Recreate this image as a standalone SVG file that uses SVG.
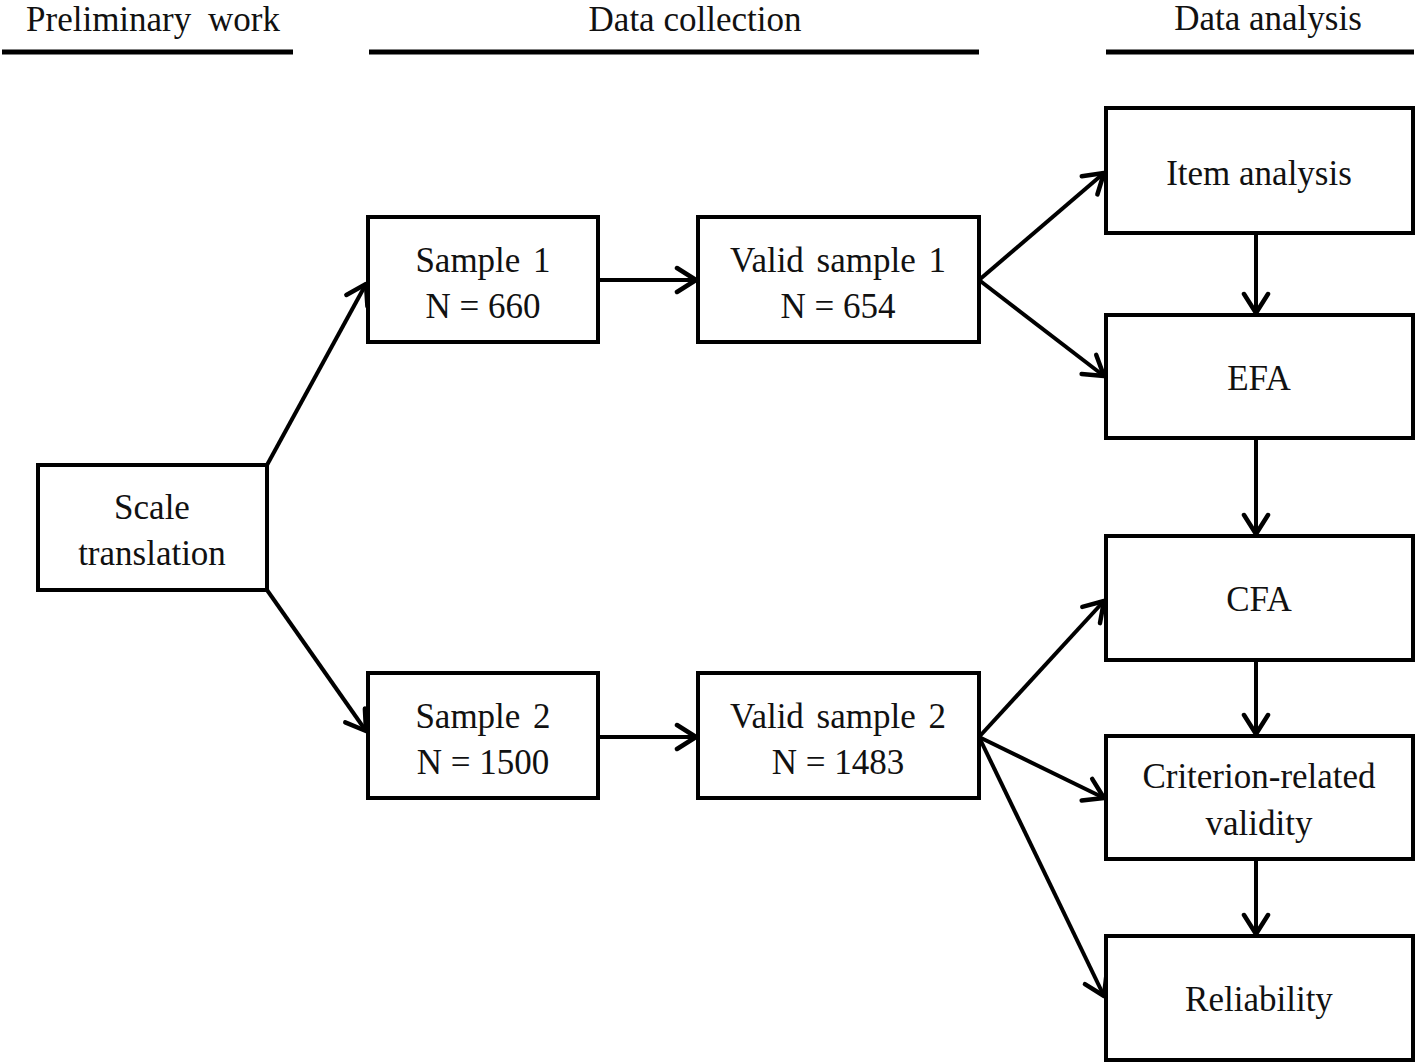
<svg xmlns="http://www.w3.org/2000/svg" width="1416" height="1064" viewBox="0 0 1416 1064">
<style>
text{font-family:"Liberation Serif","Times New Roman",serif;font-size:35px;fill:#111;text-anchor:middle}
.ws{word-spacing:4px}
.box{fill:#fff;stroke:#000;stroke-width:4}
.hdr{stroke:#000;stroke-width:5}
.con line{stroke:#000;stroke-width:4;marker-end:url(#arr)}
</style>
<defs>
<marker id="arr" markerUnits="userSpaceOnUse" markerWidth="30" markerHeight="30" viewBox="-22 -15 26 30" refX="0" refY="0" orient="auto">
<path d="M-19,-12 L0,0 L-19,12" fill="none" stroke="#000" stroke-width="4.5" stroke-linecap="round" stroke-linejoin="round"/>
</marker>
</defs>
<rect width="1416" height="1064" fill="#fff"/>
<g id="headers">
<text class="ws" x="153" y="31" style="word-spacing:8px">Preliminary work</text>
<line class="hdr" x1="2" y1="52" x2="293" y2="52"/>
<text x="695" y="31">Data collection</text>
<line class="hdr" x1="369" y1="52" x2="979" y2="52"/>
<text x="1268" y="30">Data analysis</text>
<line class="hdr" x1="1106" y1="52" x2="1414" y2="52"/>
</g>
<g class="con" id="connectors">
<line x1="267" y1="465" x2="366" y2="284"/>
<line x1="267" y1="590" x2="366" y2="731"/>
<line x1="598" y1="280" x2="696" y2="280"/>
<line x1="598" y1="737" x2="696" y2="737"/>
<line x1="979" y1="280" x2="1104" y2="173"/>
<line x1="979" y1="280" x2="1104" y2="376"/>
<line x1="1256" y1="233" x2="1256" y2="313"/>
<line x1="1256" y1="438" x2="1256" y2="534"/>
<line x1="979" y1="737" x2="1104" y2="601"/>
<line x1="979" y1="737" x2="1104" y2="798"/>
<line x1="979" y1="737" x2="1104" y2="996"/>
<line x1="1256" y1="660" x2="1256" y2="734"/>
<line x1="1256" y1="859" x2="1256" y2="934"/>
</g>
<g id="scale"><rect class="box" x="38" y="465" width="229" height="125"/><text x="152" y="519">Scale</text><text x="152" y="565">translation</text></g>
<g id="sample1"><rect class="box" x="368" y="217" width="230" height="125"/><text class="ws" x="483" y="272">Sample 1</text><text x="483" y="318">N = 660</text></g>
<g id="valid1"><rect class="box" x="698" y="217" width="281" height="125"/><text class="ws" x="838" y="272">Valid sample 1</text><text x="838" y="318">N = 654</text></g>
<g id="sample2"><rect class="box" x="368" y="673" width="230" height="125"/><text class="ws" x="483" y="728">Sample 2</text><text x="483" y="774">N = 1500</text></g>
<g id="valid2"><rect class="box" x="698" y="673" width="281" height="125"/><text class="ws" x="838" y="728">Valid sample 2</text><text x="838" y="774">N = 1483</text></g>
<g id="item"><rect class="box" x="1106" y="108" width="307" height="125"/><text x="1259" y="185">Item analysis</text></g>
<g id="efa"><rect class="box" x="1106" y="315" width="307" height="123"/><text x="1259" y="390">EFA</text></g>
<g id="cfa"><rect class="box" x="1106" y="536" width="307" height="124"/><text x="1259" y="611">CFA</text></g>
<g id="criterion"><rect class="box" x="1106" y="736" width="307" height="123"/><text x="1259" y="788">Criterion-related</text><text x="1259" y="835">validity</text></g>
<g id="reliability"><rect class="box" x="1106" y="936" width="307" height="124"/><text x="1259" y="1011">Reliability</text></g>
</svg>
